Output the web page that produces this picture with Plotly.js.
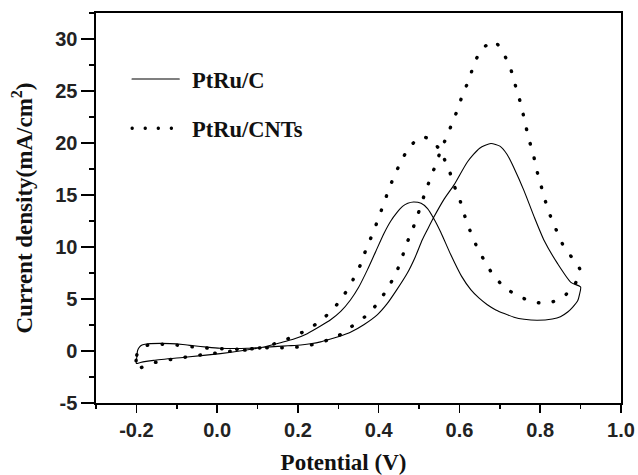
<!DOCTYPE html>
<html>
<head>
<meta charset="utf-8">
<script src="https://cdn.plot.ly/plotly-3.0.1.min.js"></script>
<style>
  html, body { margin: 0; padding: 0; background: #fff; }
  #chart { width: 638px; height: 475px; }
  .scatterlayer .js-line { stroke-linecap: round; }
  .legend .legendlines path { stroke-linecap: round; transform: scaleX(0.871); }
  .legend .traces:nth-of-type(2) .legendlines path { stroke-dasharray: 0.5px, 9.8px !important; }
  .g-xtitle text { transform: translate(-15px, 0px); }
</style>
</head>
<body>
<div id="chart"></div>
<script>
// PtRu/C cyclic voltammogram (solid), closed loop
const ptruC_V = [-0.200,-0.199,-0.197,-0.192,-0.186,-0.175,-0.165,-0.140,-0.116,-0.085,-0.058,-0.025,0.008,0.040,0.074,0.116,0.150,0.175,0.207,0.231,0.256,0.281,0.306,0.330,0.364,0.397,0.421,0.445,0.471,0.490,0.508,0.521,0.537,0.562,0.587,0.620,0.650,0.678,0.700,0.718,0.735,0.760,0.785,0.810,0.843,0.876,0.900,0.897,0.893,0.880,0.868,0.850,0.830,0.793,0.760,0.735,0.711,0.690,0.669,0.648,0.628,0.605,0.578,0.554,0.537,0.521,0.505,0.486,0.472,0.459,0.445,0.430,0.413,0.393,0.372,0.350,0.330,0.306,0.281,0.256,0.223,0.190,0.157,0.116,0.060,0.008,-0.074,-0.157,-0.190,-0.200];
const ptruC_I = [-1.20,-0.60,0.05,0.40,0.58,0.68,0.71,0.73,0.71,0.62,0.50,0.37,0.27,0.24,0.26,0.36,0.44,0.50,0.57,0.70,0.88,1.15,1.45,1.80,2.55,3.50,4.55,5.90,7.50,9.00,10.7,11.7,12.9,14.6,16.0,18.2,19.5,19.95,19.7,18.9,17.6,15.4,12.9,10.6,8.4,6.6,6.15,5.4,4.85,4.2,3.75,3.3,3.08,2.95,3.05,3.25,3.6,3.95,4.45,5.1,5.9,7.2,9.3,11.4,12.7,13.7,14.2,14.33,14.2,13.9,13.3,12.5,11.3,9.6,7.8,6.1,4.9,3.8,3.0,2.4,1.67,1.15,0.80,0.38,0.02,-0.25,-0.58,-0.90,-1.10,-1.20];

// PtRu/CNTs cyclic voltammogram (dotted), closed loop
const ptruCNT_V = [-0.200,-0.199,-0.192,-0.182,-0.172,-0.150,-0.135,-0.099,-0.062,-0.027,0.008,0.044,0.080,0.116,0.153,0.188,0.223,0.260,0.298,0.331,0.366,0.398,0.423,0.442,0.457,0.469,0.483,0.496,0.513,0.526,0.540,0.552,0.568,0.583,0.597,0.609,0.624,0.636,0.655,0.686,0.712,0.727,0.738,0.748,0.757,0.765,0.774,0.784,0.792,0.802,0.812,0.824,0.839,0.855,0.880,0.898,0.887,0.857,0.820,0.785,0.750,0.712,0.682,0.660,0.641,0.626,0.613,0.602,0.588,0.576,0.562,0.548,0.530,0.505,0.474,0.454,0.437,0.423,0.410,0.397,0.383,0.369,0.355,0.337,0.316,0.289,0.256,0.221,0.186,0.150,0.116,0.078,0.044,0.006,-0.029,-0.064,-0.101,-0.136,-0.174,-0.200];
const ptruCNT_I = [-1.80,-0.40,0.15,0.42,0.56,0.64,0.65,0.56,0.40,0.29,0.22,0.17,0.20,0.30,0.30,0.34,0.50,0.87,1.41,2.3,3.3,4.6,6.1,7.4,8.9,10.3,11.6,13.0,15.0,16.4,17.8,19.1,20.6,22.0,23.4,24.8,26.1,27.6,29.0,29.8,28.4,27.1,25.6,24.3,22.9,21.5,20.1,18.7,17.3,15.9,14.5,13.1,11.7,10.3,8.9,7.85,6.5,5.2,4.6,4.7,5.2,6.1,7.4,8.8,10.2,11.6,13.0,14.4,15.8,17.2,18.5,19.5,20.3,20.6,19.5,18.1,16.7,15.3,13.9,12.5,11.1,9.8,8.3,6.9,5.5,4.1,2.9,2.0,1.35,0.80,0.38,0.12,0.02,-0.15,-0.32,-0.51,-0.73,-0.96,-1.30,-1.80];

const seriesNames = ["PtRu/C", "PtRu/CNTs"];

const xTickVals = [-0.2, 0.0, 0.2, 0.4, 0.6, 0.8, 1.0];
const xTickText = ["-0.2", "0.0", "0.2", "0.4", "0.6", "0.8", "1.0"];
const yTickVals = [-5, 0, 5, 10, 15, 20, 25, 30];
const yTickText = ["-5", "0", "5", "10", "15", "20", "25", "30"];

const traces = [
  {
    x: ptruC_V, y: ptruC_I, name: seriesNames[0], type: "scatter", mode: "lines",
    line: { color: "#000", width: 1.1, shape: "spline", smoothing: 0.6 },
    legendgroup: "a"
  },
  {
    x: ptruCNT_V, y: ptruCNT_I, name: seriesNames[1], type: "scatter", mode: "lines",
    line: { color: "#000", width: 3.4, dash: "0.5px,14.5px", shape: "spline", smoothing: 0.6 },
    legendgroup: "b"
  }
];

const tickFont = { family: "Liberation Sans, Arial, sans-serif", size: 20, color: "#222", weight: "bold" };
const titleFont = { family: "Liberation Serif, Times New Roman, serif", size: 23, color: "#111", weight: "bold" };

const layout = {
  width: 638, height: 475,
  margin: { l: 96, r: 17, t: 13, b: 72 },
  paper_bgcolor: "#fff", plot_bgcolor: "#fff",
  showlegend: true,
  legend: {
    x: 0.0602, y: 0.885, xanchor: "left", yanchor: "top",
    font: { family: "Liberation Serif, Times New Roman, serif", size: 22.5, color: "#111", weight: "bold" },
    bgcolor: "rgba(0,0,0,0)", borderwidth: 0,
    traceorder: "grouped", tracegroupgap: 17, itemwidth: 54.4
  },
  xaxis: {
    range: [-0.3, 1.0], tickmode: "array", tickvals: xTickVals, ticktext: xTickText,
    ticks: "outside", ticklen: 8, tickwidth: 1.5, tickcolor: "#000",
    minor: { tickmode: "linear", tick0: -0.3, dtick: 0.1, ticks: "outside", ticklen: 4, tickwidth: 1.5, tickcolor: "#000", showgrid: false },
    showline: true, linewidth: 1.6, linecolor: "#000", mirror: true,
    showgrid: false, zeroline: false,
    tickfont: tickFont,
    title: { text: "Potential (V)", font: titleFont, standoff: 15 }
  },
  yaxis: {
    range: [-5, 32.5], tickmode: "array", tickvals: yTickVals, ticktext: yTickText,
    ticks: "outside", ticklen: 13, tickwidth: 1.5, tickcolor: "#000",
    minor: { tickmode: "linear", tick0: -5, dtick: 2.5, ticks: "outside", ticklen: 5, tickwidth: 1.5, tickcolor: "#000", showgrid: false },
    showline: true, linewidth: 1.6, linecolor: "#000", mirror: true,
    showgrid: false, zeroline: false,
    tickfont: tickFont,
    title: { text: "Current density(mA/cm<sup>2</sup>)", font: titleFont, standoff: 16 }
  }
};

Plotly.newPlot("chart", traces, layout, { displayModeBar: false, staticPlot: true });
</script>
</body>
</html>
